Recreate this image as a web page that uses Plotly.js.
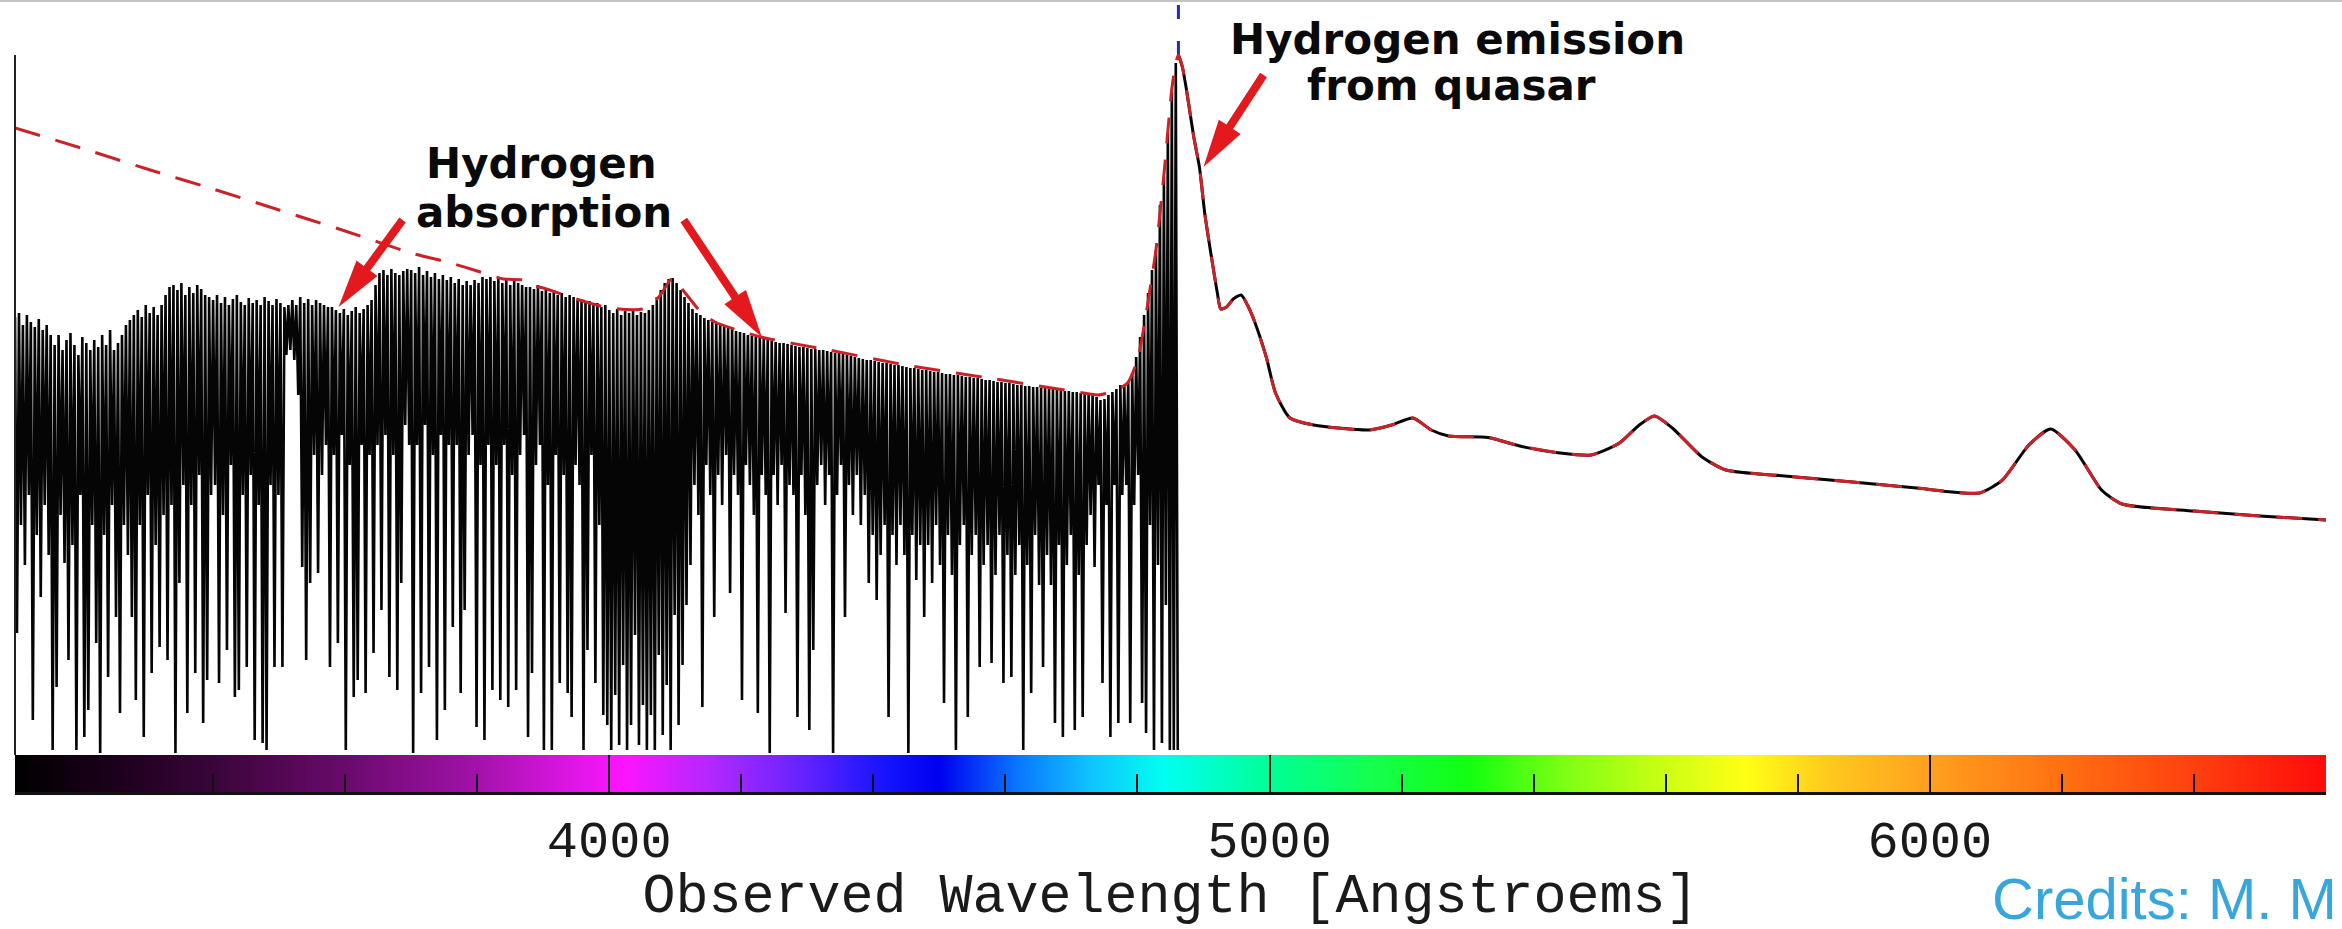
<!DOCTYPE html>
<html><head><meta charset="utf-8">
<script src="https://cdn.plot.ly/plotly-3.0.1.min.js"></script>
<style>html,body{margin:0;padding:0;background:#fff;overflow:hidden}</style>
</head><body><div id="chart" style="width:2342px;height:929px"></div>
<script>
// ---- Observed spectrum in the Lyman-alpha forest (sampled every 3 Angstroem from 3100) ----
const forestStart = 3100;
const forestStep = 3;
const forestFlux = [
 4.38,1.22,4.42,2.3,4.30,1.9,4.40,2.6,4.33,0.35,4.28,2.2,4.36,1.58,4.25,2.5,4.30,2.0,4.20,0.05,
 4.10,0.68,4.20,2.4,4.05,1.92,4.15,0.95,4.22,2.1,4.10,0.05,4.00,2.6,4.18,0.18,4.12,0.45,4.05,2.3,
 4.15,1.12,4.08,0.02,4.20,2.2,4.10,0.78,4.25,2.5,4.05,1.38,4.12,0.42,4.20,2.3,4.30,2.0,4.35,1.38,
 4.40,0.55,4.45,2.3,4.38,0.18,4.50,2.6,4.42,0.82,4.48,2.1,4.40,1.08,4.50,2.4,4.60,0.95,4.68,2.5,
 4.70,0.02,4.65,1.72,4.72,2.7,4.60,0.42,4.68,2.5,4.62,0.82,4.70,2.8,4.66,0.32,4.60,0.75,4.58,2.6,
 4.55,2.7,4.60,0.72,4.52,2.4,4.58,1.05,4.50,2.9,4.56,0.58,4.60,0.65,4.53,2.6,4.50,0.88,4.57,2.8,
 4.52,0.15,4.55,2.5,4.50,0.12,4.58,0.05,4.54,2.7,4.50,0.88,4.56,2.6,4.52,0.88,4.48,4.0,4.50,4.05,
 4.55,3.95,4.50,3.6,4.58,1.88,4.52,0.95,4.56,1.72,4.50,3.0,4.55,1.82,4.52,2.8,4.50,3.1,4.48,0.88,
 4.48,3.0,4.45,1.12,4.42,3.2,4.46,0.05,4.40,2.9,4.44,0.58,4.48,0.75,4.42,3.1,4.46,0.62,4.50,3.0,
 4.55,1.02,4.70,3.1,4.82,1.45,4.85,3.2,4.80,0.78,4.86,3.0,4.82,0.65,4.80,1.72,4.84,3.3,4.86,3.1,
 4.85,0.02,4.82,3.1,4.88,0.62,4.80,3.3,4.84,0.88,4.78,3.0,4.82,0.15,4.76,3.2,4.80,0.45,4.75,3.1,
 4.78,1.28,4.72,3.1,4.76,0.62,4.70,1.45,4.74,3.0,4.70,3.2,4.75,0.28,4.72,2.9,4.78,0.15,4.76,3.1,
 4.78,0.65,4.74,2.9,4.76,0.55,4.72,3.1,4.75,0.48,4.70,2.8,4.74,0.65,4.72,3.0,4.70,3.2,4.68,0.18,
 4.68,0.82,4.66,2.9,4.70,3.1,4.64,0.05,4.66,2.7,4.62,0.05,4.65,3.0,4.60,0.72,4.62,2.8,4.58,0.62,
 4.60,0.38,4.58,2.9,4.55,2.7,4.56,0.05,4.52,1.05,4.54,3.0,4.50,0.72,4.52,2.3,4.48,0.40,4.50,0.30,
 4.45,0.05,4.42,0.60,4.46,0.10,4.40,0.90,4.44,0.05,4.42,0.30,4.45,1.20,4.40,0.10,4.43,0.50,4.42,0.05,
 4.45,0.40,4.50,0.05,4.58,1.00,4.65,0.20,4.72,0.70,4.76,0.05,4.77,1.40,4.72,0.30,4.65,0.90,4.58,1.50,
 4.52,1.9,4.46,2.7,4.42,2.4,4.40,0.48,4.37,2.9,4.35,2.6,4.33,1.38,4.32,2.8,4.30,2.5,4.29,3.0,
 4.27,1.62,4.26,2.8,4.24,2.6,4.23,0.55,4.22,2.9,4.20,2.7,4.19,2.4,4.18,0.42,4.17,2.8,4.16,2.6,
 4.15,0.02,4.14,2.8,4.13,2.5,4.12,2.9,4.12,1.42,4.11,2.7,4.10,2.6,4.09,0.38,4.08,2.8,4.08,2.4,
 4.07,0.25,4.06,1.05,4.06,2.7,4.05,2.9,4.05,2.5,4.04,2.8,4.03,0.02,4.02,2.6,4.02,2.9,4.01,1.38,
 4.00,2.7,3.99,2.4,3.98,2.8,3.97,2.3,3.96,2.6,3.95,1.72,3.95,2.2,3.94,1.55,3.93,2.0,3.92,2.3,
 3.92,0.38,3.91,2.2,3.90,1.9,3.90,2.3,3.89,2.0,3.88,0.02,3.87,2.2,3.87,1.75,3.86,2.1,3.85,1.38,
 3.85,2.1,3.84,1.72,3.83,2.3,3.83,1.9,3.82,0.52,3.81,2.2,3.81,1.8,3.80,0.05,3.80,2.1,3.79,2.3,
 3.78,0.38,3.78,2.0,3.77,2.2,3.77,0.88,3.76,1.9,3.75,2.1,3.75,0.92,3.74,1.8,3.73,2.2,3.73,0.72,
 3.72,2.0,3.72,0.78,3.71,1.8,3.70,2.1,3.70,0.05,3.69,1.9,3.69,0.62,3.68,2.2,3.68,1.7,3.67,0.88,
 3.67,2.0,3.66,1.7,3.66,0.32,3.65,2.1,3.65,0.18,3.64,1.9,3.64,2.2,3.63,0.25,3.63,1.8,3.62,0.38,
 3.62,2.1,3.61,2.4,3.60,1.88,3.58,2.7,3.55,0.72,3.56,2.5,3.60,0.18,3.63,2.7,3.66,0.32,3.70,2.6,
 3.70,2.7,3.74,0.32,3.82,2.5,3.98,2.8,4.18,0.52,4.40,0.22,4.62,2.3,4.85,0.05,5.05,1.9,5.50,0.12,
 5.78,1.50,6.22,0.05,6.62,0.05,6.92,0.05
];

// ---- Quasar continuum + emission-line model (red dashed); data equal it redward of Ly-alpha ----
const contWave = [3100,3200,3300,3400,3500,3600,3700,3760,3800,3840,3870,3880,3900,3950,4000,4050,4075,4096,4115,4140,4160,4229,4333,4449,4565,4700,4740,4765,4785,4800,4809,4820,4828,4840,4852,4858,4862,4868,4874,4885,4894,4902,4912,4921,4926,4935,4945,4957,4968,4977,4995,5009,5031,5067,5151,5185,5217,5245,5271,5331,5379,5440,5487,5530,5560,5583,5610,5655,5691,5780,5883,5980,6075,6110,6150,6183,6220,6260,6291,6400,6500,6600];
const contFlux = [6.27,6.07,5.86,5.66,5.45,5.24,5.02,4.92,4.84,4.76,4.75,4.70,4.67,4.56,4.47,4.46,4.58,4.77,4.62,4.42,4.33,4.18,4.05,3.90,3.78,3.64,3.60,3.64,3.72,3.95,4.25,4.70,5.05,5.80,6.66,6.92,7.00,6.88,6.66,6.19,5.87,5.41,4.98,4.62,4.46,4.48,4.56,4.60,4.48,4.34,3.98,3.62,3.37,3.30,3.25,3.30,3.37,3.25,3.19,3.175,3.09,3.02,3.00,3.12,3.30,3.39,3.27,2.98,2.85,2.79,2.73,2.67,2.62,2.75,3.10,3.26,3.05,2.65,2.51,2.44,2.39,2.35];

const lyaWave = 4862;                       // observed Lyman-alpha of the quasar
const tickWave = [4000, 5000, 6000];
const tickText = ['4000', '5000', '6000'];
const minorTickWave = [3400,3600,3800,4200,4400,4600,4800,5200,5400,5600,5800,6200,6400];

// wavelength colour bar stops
const colorWave = [3100,3250,3400,3600,3800,3950,4020,4150,4280,4420,4500,4620,4730,4840,5000,5150,5300,5450,5600,5720,5850,6000,6200,6400,6600];
const colorHex = ['#000000','#1c001c','#3a053a','#6a0a6c','#a212aa','#e016e8','#ff14ff','#b428ff','#6c24ff','#1414ff','#0000f0','#0a78ff','#10c4ff','#00fff0','#00ff96','#14ff50','#12ff12','#80ff14','#ccff14','#ffff14','#ffc81e','#ffa01e','#ff7010','#ff4010','#ff0a0a'];

// annotation texts
const labels = [
  {text: 'Hydrogen', x: 3898, y: 5.915},
  {text: 'absorption', x: 3901, y: 5.425},
  {text: 'Hydrogen emission', x: 5284, y: 7.155},
  {text: 'from quasar', x: 5276, y: 6.695}
];
// arrows: tip (wavelength, flux), tail offset in screen pixels
const arrows = [
  {x: 3590, y: 4.48, dx: 64, dy: -87},
  {x: 4231, y: 4.18, dx: -78, dy: -117},
  {x: 4900, y: 5.88, dx: 60, dy: -92}
];

const W = 2342, H = 929;
const xRange = [3100, 6600];
const arrowRed = '#e3191e';

const cmin = colorWave[0], cmax = colorWave[colorWave.length - 1];
const colorscale = colorWave.map((w, i) => [(w - cmin) / (cmax - cmin), colorHex[i]]);

const smoothWave = [], smoothFlux = [];
contWave.forEach((w, i) => { if (w >= lyaWave) { smoothWave.push(w); smoothFlux.push(contFlux[i]); } });
const peakFlux = Math.max.apply(null, contFlux);

const traces = [
  {type: 'heatmap', x: colorWave, y: [0], z: [colorWave], zmin: cmin, zmax: cmax,
   colorscale: colorscale, zsmooth: 'best', showscale: false, xaxis: 'x', yaxis: 'y2', hoverinfo: 'skip'},
  {type: 'scatter', mode: 'lines', x0: forestStart, dx: forestStep, y: forestFlux,
   line: {color: '#050505', width: 2.6}, hoverinfo: 'skip'},
  {type: 'scatter', mode: 'lines', x: smoothWave, y: smoothFlux,
   line: {color: '#050505', width: 3, shape: 'spline', smoothing: 0.6}, hoverinfo: 'skip'},
  {type: 'scatter', mode: 'lines', x: contWave, y: contFlux,
   line: {color: '#c92229', width: 3, dash: '26px,16px', shape: 'spline', smoothing: 0.6}, hoverinfo: 'skip'}
];

function arrowShape(a) {
  const tx = a.dx, ty = -a.dy;
  const L = Math.hypot(tx, ty);
  const ux = tx / L, uy = ty / L, nx = -uy, ny = ux;
  const HL = 48, HW = 13, S = 4;
  const bx = ux * HL, by = uy * HL;
  const pts = [[0, 0], [bx + nx * HW, by + ny * HW], [bx + nx * S, by + ny * S], [tx + nx * S, ty + ny * S],
               [tx - nx * S, ty - ny * S], [bx - nx * S, by - ny * S], [bx - nx * HW, by - ny * HW]];
  const path = 'M ' + pts.map(p => p[0].toFixed(1) + ' ' + p[1].toFixed(1)).join(' L ') + ' Z';
  return {type: 'path', xref: 'x', yref: 'y', xsizemode: 'pixel', ysizemode: 'pixel',
          xanchor: a.x, yanchor: a.y, path: path, fillcolor: arrowRed, line: {width: 0}, layer: 'above'};
}

const shapes = [
  {type: 'line', xref: 'x', yref: 'y', x0: lyaWave, x1: lyaWave, y0: peakFlux, y1: 7.55, layer: 'below',
   line: {color: '#1f2fb0', width: 3, dash: '14px,22px'}},
  {type: 'line', xref: 'x domain', yref: 'y', x0: 0, x1: 0, y0: 0, y1: 7.0, line: {color: '#222', width: 2}},
  {type: 'line', xref: 'paper', yref: 'paper', x0: 0, x1: 1, y0: 0.999, y1: 0.999, line: {color: '#c4c4c4', width: 2}}
].concat(arrows.map(arrowShape));

const annotations = labels.map(l => ({
  text: l.text, x: l.x, y: l.y, xref: 'x', yref: 'y', showarrow: false, xanchor: 'center', yanchor: 'middle',
  font: {family: 'DejaVu Sans', size: 42, color: '#0a0a0a', weight: 'bold'}
}));
annotations.push({
  text: 'Credits: M. M', xref: 'paper', yref: 'paper', x: 1990 / W, y: 0.0323, xanchor: 'left', yanchor: 'middle',
  showarrow: false, font: {family: 'Liberation Sans', size: 58, color: '#36a6dc'}
});

const layout = {
  width: W, height: H,
  margin: {l: 0, r: 0, t: 0, b: 0, pad: 0},
  paper_bgcolor: '#ffffff', plot_bgcolor: 'rgba(0,0,0,0)',
  showlegend: false,
  xaxis: {
    domain: [15 / W, 2326 / W], range: xRange, anchor: 'y2', automargin: false,
    tickmode: 'array', tickvals: tickWave, ticktext: tickText,
    ticks: 'inside', ticklen: 37, tickwidth: 2, tickcolor: '#111',
    showline: true, linecolor: '#111', linewidth: 3, showgrid: false, zeroline: false,
    tickfont: {family: 'Liberation Mono', size: 52, color: '#1a1a1a'},
    ticklabelstandoff: 0,
    minor: {tickmode: 'array', tickvals: minorTickWave, ticks: 'inside', ticklen: 18, tickwidth: 2, tickcolor: '#111', showgrid: false},
    title: {text: 'Observed Wavelength [Angstroems]', font: {family: 'Liberation Mono', size: 55, color: '#1a1a1a'}, standoff: 35}
  },
  yaxis: {domain: [174 / H, 1], range: [0, 7.55], visible: false, showgrid: false, zeroline: false},
  yaxis2: {domain: [137 / H, 174 / H], range: [-0.5, 0.5], visible: false, showgrid: false, zeroline: false},
  shapes: shapes,
  annotations: annotations
};

Plotly.newPlot('chart', traces, layout, {staticPlot: true, displayModeBar: false});
</script></body></html>
